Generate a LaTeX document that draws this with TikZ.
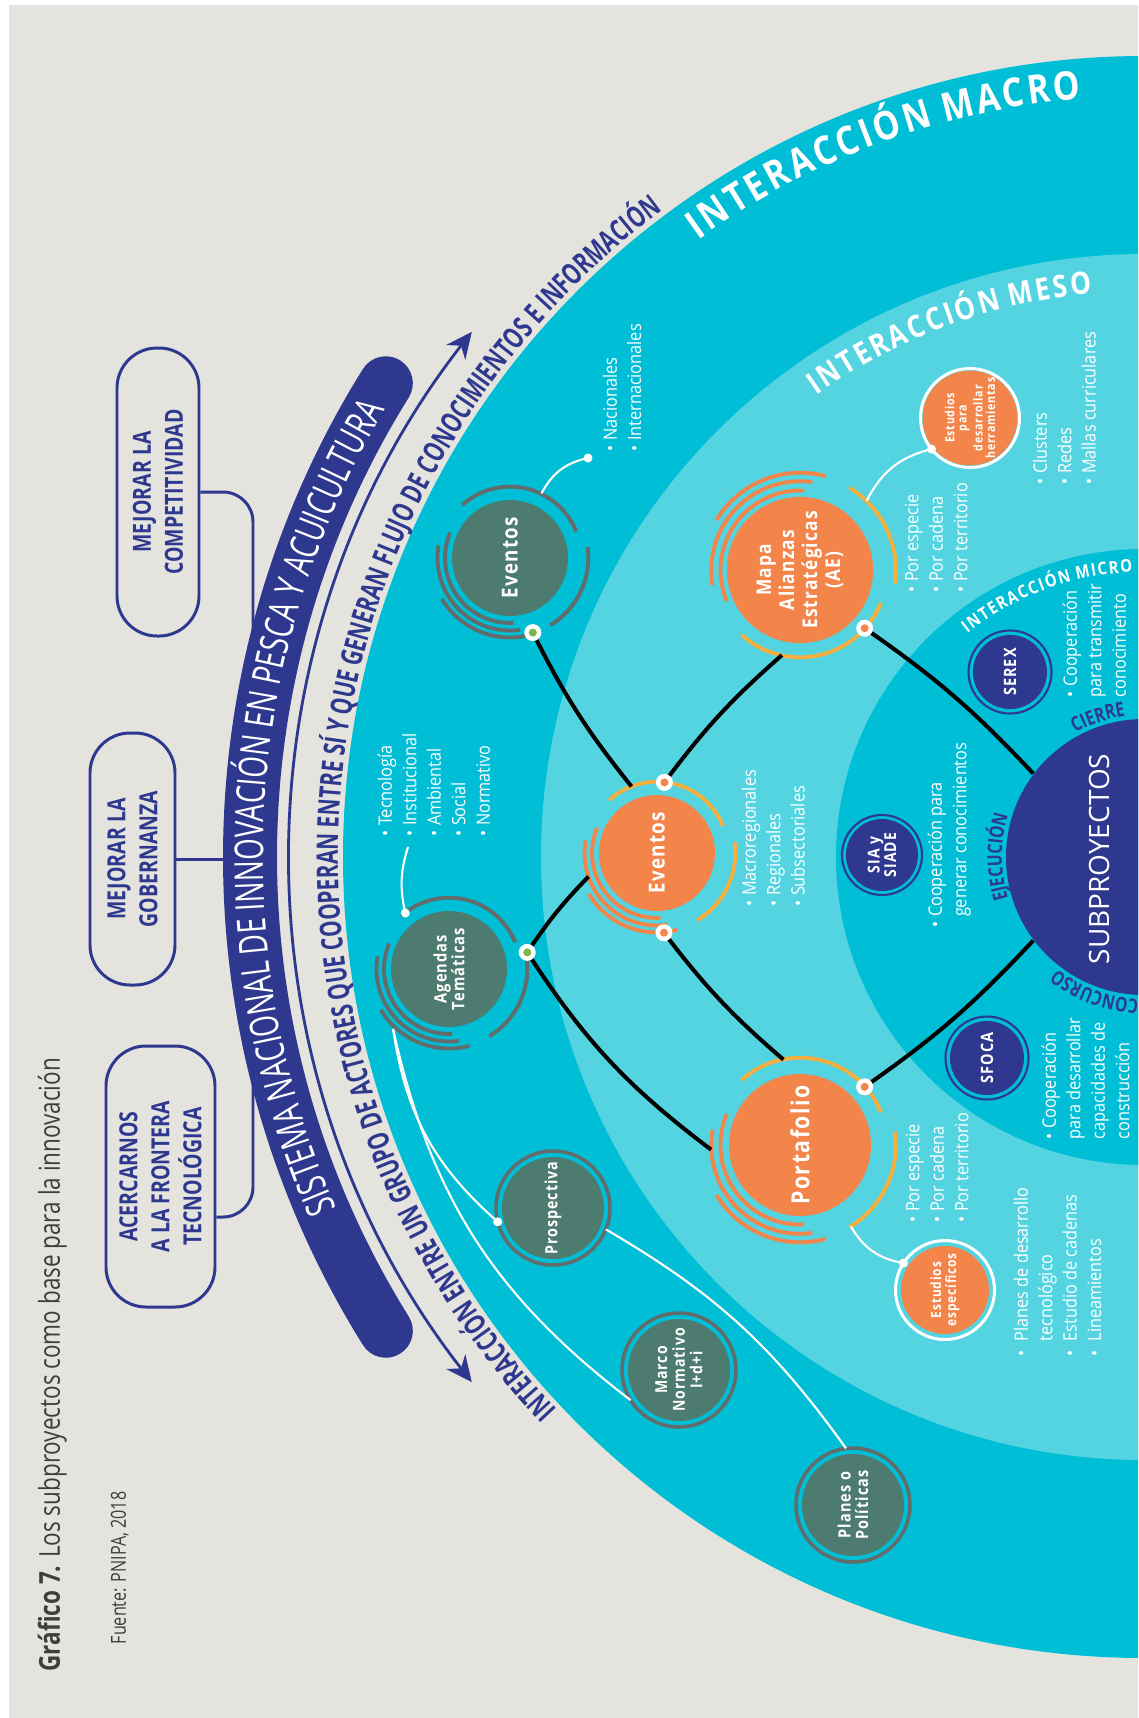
\documentclass[tikz,border=0pt]{standalone}
\usepackage{fontspec}
\setmainfont{Open Sans}
\newfontfamily\bodyf[FakeStretch=0.88]{Open Sans}
\newfontfamily\condf[FakeStretch=0.78]{Open Sans}
\newfontfamily\bandf[FakeStretch=0.70]{Open Sans}
\newfontfamily\lblf[FakeStretch=0.85,LetterSpace=6]{Open Sans}
\newfontfamily\trackf[FakeStretch=0.85]{Open Sans}
\usetikzlibrary{decorations.text,arrows.meta}
\definecolor{bggray}{RGB}{228,227,221}
\definecolor{macroc}{RGB}{0,190,214}
\definecolor{mesoc}{RGB}{84,212,225}
\definecolor{navy}{RGB}{46,56,143}
\definecolor{teal}{RGB}{78,123,111}
\definecolor{ringg}{RGB}{98,108,106}
\definecolor{orng}{RGB}{243,133,74}
\definecolor{yell}{RGB}{246,174,61}
\definecolor{grn}{RGB}{122,182,72}
\definecolor{titleg}{RGB}{62,62,62}
\newcommand{\lbfont}[2]{\lblf\bfseries\fontsize{#1}{#2}\selectfont}
\newcommand{\ringset}[5]{%
 \begin{scope}[shift={(#1)}, yscale=#5]
  \draw[#3, ringlw] (157:{#2*1.12}) arc[start angle=157, end angle=273, radius={#2*1.12}];
  \draw[#3, ringlw] (170:{#2*1.25}) arc[start angle=170, end angle=278, radius={#2*1.25}];
  \draw[#3, ringlw] (211:{#2*1.37}) arc[start angle=211, end angle=285, radius={#2*1.37}];
  \draw[#4, ringlw] (132:{#2*1.23}) arc[start angle=132, end angle=22, radius={#2*1.23}];
  \draw[#4, ringlw] (8:{#2*1.35}) arc[start angle=8, end angle=-59, radius={#2*1.35}];
 \end{scope}}
\newcommand{\dotmark}[2]{\fill[white] (#1) circle[radius=8.5]; \fill[#2] (#1) circle[radius=4];}
\newcommand{\arctext}[6]{\path[decorate,decoration={text along path,text align=center,text color=#4,text={|#5|#6}}] ([shift={(#2:#1)}]C) arc[start angle=#2,end angle=#3,radius=#1];}
\tikzset{
 ringlw/.style={line width=1.1pt},
 blk/.style={black, line width=1.15pt},
 wln/.style={white, line width=0.6pt},
 conn/.style={navy, line width=0.85pt},
 goalbox/.style={draw=navy, line width=0.85pt, rounded corners=4mm, fill=bggray, rotate=90, align=center, text=navy, inner sep=0, font=\condf\bfseries\fontsize{7.1pt}{9.1pt}\selectfont},
 bul/.style={rotate=90, anchor=north west, inner sep=0, align=left, text=white, font=\bodyf\fontsize{5.26pt}{6.97pt}\selectfont},
 nd/.style={circle, inner sep=0, rotate=90, align=center, text=white},
}
\begin{document}
\begin{tikzpicture}[x=0.1mm,y=0.1mm]
\useasboundingbox (0,0) rectangle (1138,-1718);
\fill[white] (0,0) rectangle (1138,-1718);
\clip (0,0) rectangle (1138,-1718);
\fill[bggray] (9,-5) rectangle (1138,-1718);
\coordinate (C) at (1144,-857);
% levels
\fill[macroc] (C) circle[radius=801];
\fill[mesoc] (C) circle[radius=603];
\fill[macroc] (C) circle[radius=308];

% title
\node[rotate=90, anchor=base west, inner sep=0, text=titleg, font=\condf\fontsize{8.2pt}{9pt}\selectfont] (title) at (60,-1672) {\textbf{Gráfico 7.} Los subproyectos como base para la innovación};
\node[rotate=90, anchor=base west, inner sep=0, text=titleg, font=\condf\fontsize{5.9pt}{7pt}\selectfont] (src) at (126,-1645) {Fuente: PNIPA, 2018};

% goal boxes
\node[goalbox, minimum width=26.1mm, minimum height=10.9mm] (b1) at (160.5,-1176.5) {ACERCARNOS\\A LA FRONTERA\\TECNOLÓGICA};
\node[goalbox, minimum width=25.2mm, minimum height=8.5mm] (b2) at (132.5,-859) {MEJORAR LA\\GOBERNANZA};
\node[goalbox, minimum width=28.8mm, minimum height=8.2mm] (b3) at (158,-492) {MEJORAR LA\\COMPETITIVIDAD};
\coordinate (sp1) at (253,-492);
\coordinate (sp3) at (253,-1217);
\coordinate (sp2) at (253,-859);
\draw[conn, rounded corners=3mm] (b3.south) -- (sp1) -- (sp3) -- (sp3 -| b1.south);
\draw[conn] (b2.south) -- (sp2);

% band
\draw[navy, line width=15.36pt, line cap=round] ([shift={(148:894)}]C) arc[start angle=148, end angle=212, radius=894];
\arctext{881}{211.5}{141.5}{white}{\bandf\fontsize{11.3pt}{11.3pt}\selectfont}{SISTEMA NACIONAL DE INNOVACIÓN EN PESCA Y ACUICULTURA}
% arrow arc
\draw[navy, line width=0.8pt, {Stealth[length=2.6mm,width=2.4mm]}-{Stealth[length=2.6mm,width=2.4mm]}] ([shift={(142:853)}]C) arc[start angle=142, end angle=218, radius=853];
\arctext{806}{230}{120}{navy}{\bandf\bfseries\fontsize{8.44pt}{8.44pt}\selectfont}{INTERACCIÓN ENTRE UN GRUPO DE ACTORES QUE COOPERAN ENTRE SÍ Y QUE GENERAN FLUJO DE CONOCIMIENTOS E INFORMACIÓN}

% level titles (tracked)
\arctext{761}{140.3}{80.3}{white}{\trackf\bfseries\fontsize{11.3pt}{11.3pt}\selectfont}{{I\kern0.9pt}{N\kern0.9pt}{T\kern0.9pt}{E\kern0.9pt}{R\kern0.9pt}{A\kern0.9pt}{C\kern0.9pt}{C\kern0.9pt}{I\kern0.9pt}{Ó\kern0.9pt}{N\kern0.9pt} {M\kern0.9pt}{A\kern0.9pt}{C\kern0.9pt}{R\kern0.9pt}{O}}
\arctext{566}{140.3}{80.3}{white}{\trackf\bfseries\fontsize{8.8pt}{8.8pt}\selectfont}{{I\kern0.72pt}{N\kern0.72pt}{T\kern0.72pt}{E\kern0.72pt}{R\kern0.72pt}{A\kern0.72pt}{C\kern0.72pt}{C\kern0.72pt}{I\kern0.72pt}{Ó\kern0.72pt}{N\kern0.72pt} {M\kern0.72pt}{E\kern0.72pt}{S\kern0.72pt}{O}}
\arctext{285}{140.3}{80.3}{white}{\trackf\bfseries\fontsize{5pt}{5pt}\selectfont}{{I\kern0.43pt}{N\kern0.43pt}{T\kern0.43pt}{E\kern0.43pt}{R\kern0.43pt}{A\kern0.43pt}{C\kern0.43pt}{C\kern0.43pt}{I\kern0.43pt}{Ó\kern0.43pt}{N\kern0.43pt} {M\kern0.43pt}{I\kern0.43pt}{C\kern0.43pt}{R\kern0.43pt}{O}}

% subproyectos
\node[circle, fill=navy, minimum size=27.6mm, inner sep=0] (sub) at (C) {};
\node[rotate=90, text=white, inner sep=0, font=\fontsize{7.97pt}{8pt}\selectfont] (subtxt) at (1099,-859) {SUBPROYECTOS};
\arctext{142}{138.3}{78.3}{navy}{\condf\bfseries\fontsize{5.7pt}{5.7pt}\selectfont}{CIERRE}
\arctext{142}{210}{150}{navy}{\condf\bfseries\fontsize{5.7pt}{5.7pt}\selectfont}{EJECUCIÓN}
\arctext{142}{280}{220}{navy}{\condf\bfseries\fontsize{5.7pt}{5.7pt}\selectfont}{CONCURSO}

% nodes
\node[nd, fill=teal, minimum size=11.6mm, font=\lbfont{6.26pt}{6.5pt}] (evG) at (510,-558) {Eventos};
\node[nd, fill=teal, minimum size=11.6mm, font=\lbfont{4.9pt}{5.1pt}] (ag) at (449,-969) {Agendas\\Temáticas};
\node[nd, fill=orng, minimum size=11.6mm, font=\lbfont{6.26pt}{6.5pt}] (evO) at (657,-853) {Eventos};
\node[nd, fill=orng, minimum size=14.2mm, font=\lbfont{5.78pt}{6.54pt}] (mapa) at (800,-570) {Mapa\\Alianzas\\Estratégicas\\(AE)};
\node[nd, fill=orng, minimum size=14.2mm, font=\lbfont{7.1pt}{7.5pt}] (port) at (800,-1145) {Portafolio};
\node[nd, fill=orng, minimum size=8.8mm, font=\lbfont{3.56pt}{3.5pt}] (estH) at (970,-418) {Estudios\\para\\desarrollar\\herramientas};
\node[nd, fill=orng, minimum size=8.8mm, font=\lbfont{4pt}{4.27pt}] (estE) at (945,-1290) {Estudios\\específicos};
\node[nd, fill=teal, minimum size=10.2mm, font=\lbfont{4.78pt}{5pt}] (pro) at (553,-1208) {Prospectiva};
\node[nd, fill=teal, minimum size=10.2mm, font=\lbfont{4.7pt}{5pt}] (mar) at (679,-1370) {Marco\\Normativo\\I+d+i};
\node[nd, fill=teal, minimum size=10.2mm, font=\lbfont{4.84pt}{5pt}] (pla) at (853,-1505) {Planes o\\Políticas};
\node[nd, fill=navy, minimum size=7.4mm, font=\lbfont{4.84pt}{5pt}] (serex) at (1010,-672) {SEREX};
\node[nd, fill=navy, minimum size=7.2mm, font=\lbfont{4.67pt}{4.75pt}] (sia) at (882,-855) {SIA y\\SIADE};
\node[nd, fill=navy, minimum size=7.4mm, font=\lbfont{4.84pt}{5pt}] (sfoca) at (987,-1058) {SFOCA};

% rings
\ringset{evG.center}{58}{ringg}{ringg}{1}
\ringset{ag.center}{58}{ringg}{ringg}{1}
\ringset{evO.center}{58}{orng}{yell}{1}
\ringset{port.center}{71}{orng}{yell}{1}
\ringset{mapa.center}{71}{orng}{yell}{-1}
\draw[ringg, line width=1pt] (pro.center) circle[radius=57];
\draw[ringg, line width=1pt] (mar.center) circle[radius=57];
\draw[ringg, line width=1pt] (pla.center) circle[radius=57];
\draw[white, line width=0.85pt] (estH.center) circle[radius=49.5];
\draw[white, line width=0.85pt] (estE.center) circle[radius=49.5];
\draw[navy, line width=0.6pt] (serex.center) circle[radius=41.5];
\draw[navy, line width=0.6pt] (sia.center) circle[radius=40];
\draw[navy, line width=0.6pt] (sfoca.center) circle[radius=41.5];

% connector points
\coordinate (dEv) at ([shift={(-73:78)}]evG.center);
\coordinate (dAg) at ([shift={(12:80)}]ag.center);
\coordinate (dOt) at ([shift={(84:71)}]evO.center);
\coordinate (dOb) at ([shift={(-85:80)}]evO.center);
\coordinate (dMa) at ([shift={(-42:87)}]mapa.center);
\coordinate (dPo) at ([shift={(42:87)}]port.center);
\coordinate (e1) at ([shift={(111:71.3)}]evO.center);
\coordinate (e3) at ([shift={(199:72.5)}]evO.center);
\coordinate (e2) at ([shift={(258:87)}]mapa.center);
\coordinate (e4) at ([shift={(183:89)}]port.center);
\coordinate (e5) at ([shift={(101:87)}]port.center);

% black curves
\draw[blk] (dEv) to[bend right=6] (e1);
\draw[blk] (dOt) to[bend left=6] (e2);
\draw[blk] (dAg) to[bend left=5] (e3);
\draw[blk] (dAg) to[bend right=10] (e4);
\draw[blk] (dOb) to[bend right=6] (e5);
\draw[blk] (dMa) to[bend left=6] (sub.143);
\draw[blk] (dPo) to[bend right=6] (sub.217);
\dotmark{dEv}{grn}
\dotmark{dAg}{grn}
\dotmark{dOt}{orng}
\dotmark{dOb}{orng}
\dotmark{dMa}{orng}
\dotmark{dPo}{orng}

% white lines
\coordinate (wA) at ([shift={(128:71)}]ag.center);
\coordinate (wAe) at (408,-847);
\coordinate (wE) at ([shift={(64:72)}]evG.center);
\coordinate (wEe) at (588,-458);
\coordinate (wM) at ([shift={(46:96)}]mapa.center);
\coordinate (wMe) at ([shift={(219:49.5)}]estH.center);
\coordinate (wP) at ([shift={(-58:96)}]port.center);
\coordinate (wPe) at ([shift={(147:49.5)}]estE.center);
\coordinate (wG) at ([shift={(227:82)}]ag.center);
\coordinate (wPr) at ([shift={(194:57)}]pro.center);
\coordinate (wMr) at ([shift={(212:57)}]mar.center);
\coordinate (wPr2) at ([shift={(-22:57)}]pro.center);
\coordinate (wPl) at ([shift={(97:57)}]pla.center);
\draw[wln] (wA) to[bend left=15] (wAe);
\draw[wln] (wE) to[bend left=25] (wEe);
\draw[wln] (wM) to[bend left=25] (wMe);
\draw[wln] (wP) to[bend right=25] (wPe);
\draw[wln] (wG) to[bend right=20] (wPr);
\draw[wln] (wG) to[bend right=20] (wMr);
\draw[wln] (wPr2) to[bend left=12] (wPl);
\foreach \p in {wA,wEe,wMe,wPe,wPr} \fill[white] (\p) circle[radius=4.5];

% bullet texts
\node[bul] (tNac) at (602,-452) {• Nacionales\\• Internacionales};
\node[bul] (tTec) at (377,-837) {• Tecnología\\• Institucional\\• Ambiental\\• Social\\• Normativo};
\node[bul] (tMac) at (741,-907) {• Macroregionales\\• Regionales\\• Subsectoriales};
\node[bul] (tMap) at (904,-593) {• Por especie\\• Por cadena\\• Por territorio};
\node[bul] (tClu) at (1032,-485) {• Clusters\\• Redes\\• Mallas curriculares};
\node[bul] (tSer) at (1062,-698) {• Cooperación\\para transmitir\\conocimiento};
\node[bul] (tSia) at (927,-928) {• Cooperación para\\\phantom{• }generar conocimientos};
\node[bul] (tPor) at (905,-1223) {• Por especie\\• Por cadena\\• Por territorio};
\node[bul] (tSfo) at (1041,-1140) {• Cooperación\\para desarrollar\\capacidades de\\construcción};
\node[bul] (tEst) at (1013,-1357) {\makebox[1.5mm][l]{•}Planes de desarrollo\\\hspace*{1.5mm}tecnológico\\\makebox[1.5mm][l]{•}Estudio de cadenas\\\makebox[1.5mm][l]{•}Lineamientos};
\end{tikzpicture}
\end{document}
